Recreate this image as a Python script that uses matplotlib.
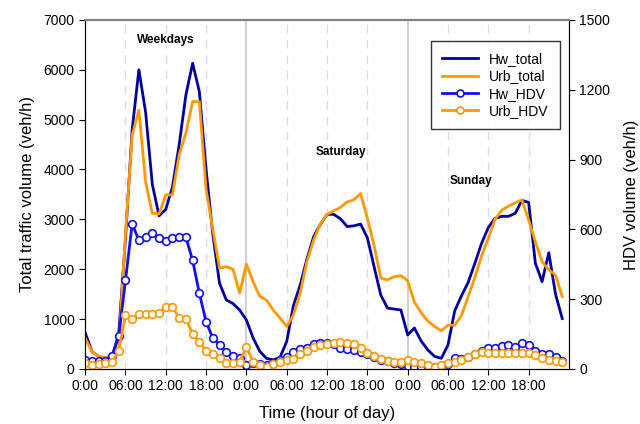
import numpy as np
import matplotlib
matplotlib.use("Agg")
import matplotlib.pyplot as plt

plt.rcParams['font.family'] = ['Liberation Sans', 'DejaVu Sans']

# hourly values, weekdays (0-23), saturday (24-47), sunday (48-71)
hours = np.arange(72)

hw_total = [730, 350, 250, 210, 230, 700, 2600, 4800, 6000, 5150, 3700, 3070, 3200, 3650, 4500, 5500, 6130, 5560, 4000, 2700, 1720, 1385, 1310, 1180,
            980, 620, 350, 210, 180, 230, 550, 1270, 1680, 2200, 2650, 2900, 3100, 3100, 3010, 2855, 2870, 2905, 2630, 2050, 1480, 1220, 1200, 1180,
            680, 820, 560, 380, 250, 212, 480, 1165, 1465, 1735, 2120, 2520, 2835, 3020, 3060, 3060, 3120, 3380, 3340, 2120, 1750, 2330, 1500, 1010]
urb_total = [620, 350, 250, 230, 250, 420, 2700, 4690, 5190, 3750, 3120, 3110, 3490, 3490, 4300, 4730, 5360, 5360, 3600, 2800, 2020, 2050, 2000, 1520,
             2100, 1745, 1455, 1380, 1180, 1020, 850, 1080, 1520, 2150, 2580, 2910, 3100, 3170, 3240, 3350, 3390, 3520, 3020, 2480, 1820, 1785, 1850, 1870,
             1770, 1340, 1130, 960, 850, 765, 875, 875, 1070, 1450, 1835, 2270, 2620, 3000, 3185, 3265, 3330, 3390, 2990, 2550, 2150, 1985, 1885, 1450]

hw_hdv = [40, 36, 33, 36, 56, 140, 380, 623, 553, 567, 584, 563, 548, 561, 568, 565, 466, 325, 203, 132, 103, 72, 54, 47,
          17, 25, 22, 17, 24, 39, 50, 74, 85, 90, 106, 110, 110, 105, 90, 84, 80, 73, 62, 50, 39, 32, 25, 20,
          12, 10, 7, 8, 10, 12, 22, 46, 43, 53, 62, 76, 89, 89, 100, 103, 96, 110, 103, 76, 62, 62, 50, 35]
urb_hdv = [27, 17, 21, 24, 29, 77, 231, 215, 235, 235, 235, 242, 267, 267, 217, 215, 150, 117, 77, 63, 47, 25, 24, 30,
           95, 31, 17, 10, 20, 31, 39, 41, 64, 77, 96, 103, 108, 113, 115, 113, 108, 90, 67, 55, 42, 33, 28, 31,
           38, 31, 24, 17, 10, 17, 27, 31, 39, 53, 63, 74, 70, 70, 70, 70, 70, 70, 67, 60, 46, 39, 36, 31]

xticks = np.arange(0, 72, 6)
xticklabels = ['0:00', '06:00', '12:00', '18:00'] * 3
day_names = ['Weekdays', 'Saturday', 'Sunday']
day_label_pos = [(12, 6600), (38, 4350), (57.4, 3770)]

navy = '#0000A0'
orange = '#FF9900'
blue = '#1010F0'

fig = plt.figure(figsize=(6.4, 4.24), dpi=100)
ax = fig.add_axes([0.133, 0.130, 0.756, 0.823])

# day / quarter-day separators
for x in xticks[1:]:
    if x % 24 == 0:
        ax.axvline(x, color='#C8C8C8', lw=1.2, zorder=0)
    else:
        ax.axvline(x, color='#D8D8FF', lw=1.0, ls=(0, (6, 5)), zorder=0)

l1, = ax.plot(hours, hw_total, color=navy, lw=2, label='Hw_total')
l2, = ax.plot(hours, urb_total, color=orange, lw=2, label='Urb_total')
ax.set_xlim(0, 72)
ax.set_ylim(0, 7000)
ax.set_yticks(np.arange(0, 7001, 1000))
ax.set_xticks(xticks)
ax.set_xticklabels(xticklabels)
ax.set_ylabel('Total traffic volume (veh/h)', fontsize=12, labelpad=6)
ax.set_xlabel('Time (hour of day)', fontsize=12, labelpad=9)
ax.tick_params(labelsize=10, direction='out', length=4)
ax.spines['top'].set_color('#808080')
ax.spines['top'].set_linewidth(1.5)

for name, (tx, ty) in zip(day_names, day_label_pos):
    ax.text(tx, ty, name, ha='center', va='center', fontsize=8.5, fontweight='bold')

ax2 = ax.twinx()
l3, = ax2.plot(hours, hw_hdv, color=blue, lw=2, marker='o', ms=5.5, mfc='white', mec=blue, mew=1.2, label='Hw_HDV')
l4, = ax2.plot(hours, urb_hdv, color=orange, lw=2, marker='o', ms=5.5, mfc='white', mec=orange, mew=1.2, label='Urb_HDV')
ax2.set_ylim(0, 1500)
ax2.set_yticks(np.arange(0, 1501, 300))
ax2.set_ylabel('HDV volume (veh/h)', fontsize=12, labelpad=10)
ax2.tick_params(labelsize=10, direction='out', length=4)
ax2.spines['top'].set_color('#808080')
ax2.spines['top'].set_linewidth(1.5)

leg = ax2.legend(handles=[l1, l2, l3, l4], loc='upper right', bbox_to_anchor=(0.995, 0.96),
                 fontsize=10, frameon=True, fancybox=False, edgecolor='black',
                 handlelength=2.6, borderpad=0.8, labelspacing=0.25)
leg.get_frame().set_linewidth(1.0)
for h in leg.legend_handles:
    if h.get_marker() == 'o':
        h.set_markersize(5)

fig.savefig('out.png', dpi=100)
